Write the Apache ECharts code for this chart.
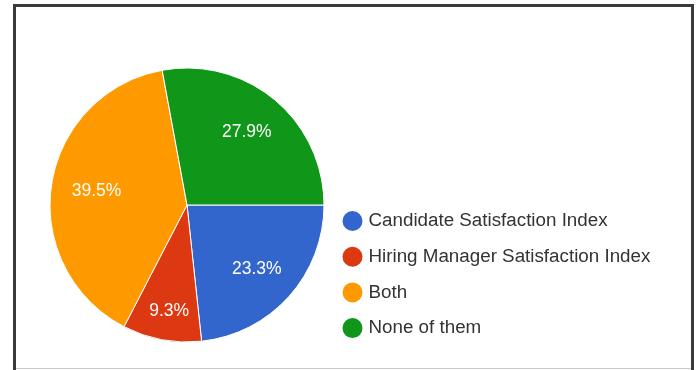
<!DOCTYPE html>
<html>
<head>
<meta charset="utf-8">
<script src="https://cdn.jsdelivr.net/npm/echarts@6/dist/echarts.min.js"></script>
<style>
html,body{margin:0;padding:0;background:#fff;}
#c{width:697px;height:370px;}
</style>
</head>
<body>
<div id="c"></div>
<script>
const categories = ['Candidate Satisfaction Index', 'Hiring Manager Satisfaction Index', 'Both', 'None of them'];
const values = [23.3, 9.3, 39.5, 27.9];
const colors = ['#3366cc', '#dc3912', '#ff9900', '#109618'];

const chart = echarts.init(document.getElementById('c'), null, {renderer: 'canvas'});
const pieData = categories.map((n, i) => ({name: n, value: values[i], itemStyle: {color: colors[i]}}));
const labelOffsets = [[-2, 0], [0, 11], [5, 0], [-2, 1]];
const center = [187, 205];
chart.setOption({
  animation: false,
  backgroundColor: '#fff',
  color: colors,
  legend: {
    orient: 'vertical',
    left: 340.5,
    top: 209,
    padding: 0,
    icon: 'circle',
    itemWidth: 22,
    itemHeight: 22,
    itemGap: 11.7,
    data: categories,
    textStyle: {fontFamily: 'Liberation Sans, Arial', fontSize: 18.8, color: '#333', lineHeight: 22}
  },
  graphic: [
    {type: 'rect', shape: {x: 14.5, y: 5.5, width: 678, height: 380}, style: {fill: 'none', stroke: '#3a3a3a', lineWidth: 3}, z: 10},
    {type: 'line', shape: {x1: 16, y1: 368.5, x2: 691, y2: 368.5}, style: {stroke: '#c8c8c8', lineWidth: 1}, z: 10}
  ],
  series: [
    {
      type: 'pie',
      center: center,
      radius: [0, 137],
      startAngle: 0,
      clockwise: true,
      label: {show: false},
      labelLine: {show: false},
      itemStyle: {borderColor: '#fff', borderWidth: 1},
      emphasis: {disabled: true},
      data: pieData
    },
    {
      type: 'pie',
      center: center,
      radius: [50, 137],
      startAngle: 0,
      clockwise: true,
      silent: true,
      legendHoverLink: false,
      itemStyle: {color: 'transparent', borderWidth: 0},
      emphasis: {disabled: true},
      label: {
        show: true,
        position: 'inside',
        formatter: p => p.value.toFixed(1) + '%',
        color: '#fff',
        fontFamily: 'Liberation Sans, Arial',
        fontSize: 17.5
      },
      labelLine: {show: false},
      data: categories.map((n, i) => ({name: n, value: values[i], itemStyle: {color: 'transparent'}, label: {offset: labelOffsets[i]}}))
    }
  ]
});
</script>
</body>
</html>
